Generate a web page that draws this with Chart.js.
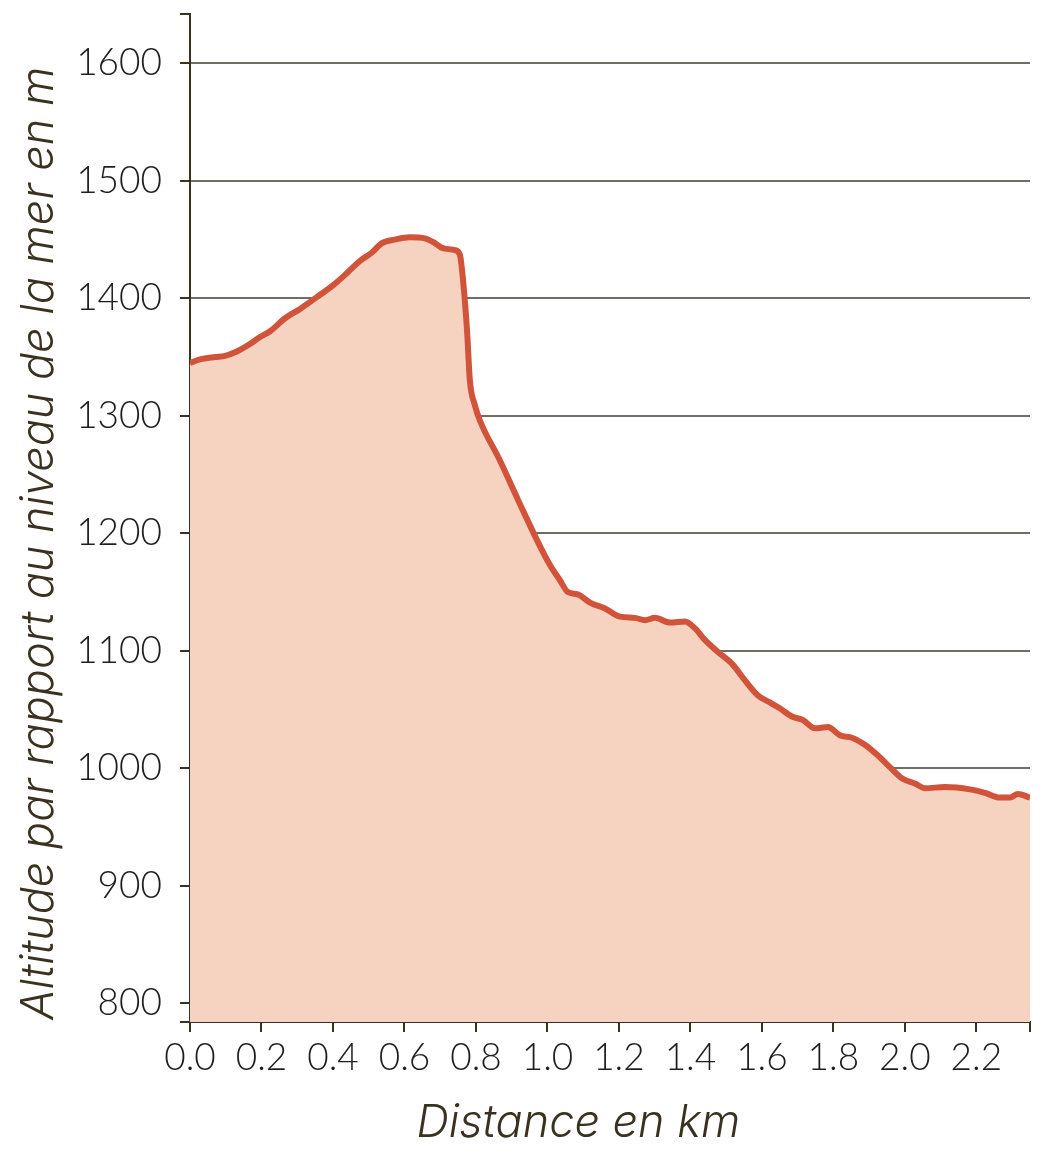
<!DOCTYPE html>
<html>
<head>
<meta charset="utf-8">
<script src="https://cdn.jsdelivr.net/npm/chart.js@4"></script>
<style>
  html, body { margin: 0; padding: 0; background: #fff; }
  #wrap { width: 1063px; height: 1174px; }
</style>
</head>
<body>
<div id="wrap"><canvas id="profile"></canvas></div>
<script>
const distanceKm = [0, 0.028, 0.07, 0.098, 0.126, 0.162, 0.196, 0.224, 0.266, 0.308, 0.364, 0.4, 0.434, 0.476, 0.509, 0.537, 0.573, 0.615, 0.657, 0.685, 0.705, 0.741, 0.755, 0.764, 0.775, 0.783, 0.797, 0.811, 0.867, 0.923, 0.971, 1.007, 1.035, 1.057, 1.085, 1.119, 1.161, 1.203, 1.245, 1.273, 1.301, 1.343, 1.385, 1.413, 1.441, 1.477, 1.519, 1.552, 1.589, 1.622, 1.65, 1.684, 1.715, 1.748, 1.785, 1.818, 1.852, 1.888, 1.924, 1.958, 1.994, 2.028, 2.056, 2.112, 2.182, 2.224, 2.266, 2.294, 2.316, 2.35];
const altitudeM = [1345, 1348, 1350, 1351, 1354, 1360, 1367, 1372, 1383, 1391, 1403, 1411, 1420, 1432, 1439, 1447, 1450, 1452, 1451, 1447, 1443, 1441, 1437, 1415, 1373, 1330, 1309, 1296, 1262, 1225, 1194, 1173, 1160, 1150, 1148, 1141, 1136, 1129, 1128, 1126, 1128, 1124, 1125, 1119, 1109, 1099, 1088, 1075, 1062, 1056, 1051, 1044, 1041, 1034, 1035, 1028, 1026, 1020, 1011, 1001, 991, 987, 983, 984, 982, 979, 975, 975, 978, 975];

const xTickLabels = [0, 0.2, 0.4, 0.6, 0.8, 1.0, 1.2, 1.4, 1.6, 1.8, 2.0, 2.2];
const yTickLabels = [800, 900, 1000, 1100, 1200, 1300, 1400, 1500, 1600];
const xMin = 0, xMax = 2.35;
const yMin = 784, yMax = 1642;

const axisColor = '#3a3120';
const gridColor = '#6e6d66';
const tickFont = { family: 'Lato, "Open Sans", sans-serif', size: 37, weight: 300 };
const titleFont = { family: 'Inter, "Open Sans", sans-serif', size: 45, weight: 300, style: 'italic' };
// non-breaking spaces nudge the centred titles, as in the original
const pad = n => '\u00a0'.repeat(n);

new Chart(document.getElementById('profile'), {
  type: 'line',
  data: {
    datasets: [{
      data: distanceKm.map((d, i) => ({ x: d, y: altitudeM[i] })),
      borderColor: '#d0533a',
      backgroundColor: '#f6d3c1',
      borderWidth: 6,
      fill: 'start',
      pointRadius: 0,
      cubicInterpolationMode: 'monotone'
    }]
  },
  options: {
    responsive: true,
    maintainAspectRatio: false,
    animation: false,
    layout: { padding: { top: 14, right: 33, left: 0, bottom: 0 } },
    plugins: { legend: { display: false }, tooltip: { enabled: false } },
    scales: {
      x: {
        type: 'linear',
        min: xMin,
        max: xMax,
        afterBuildTicks: s => { s.ticks = xTickLabels.concat([xMax]).map(v => ({ value: v })); },
        afterFit: s => { s.height = 152; },
        border: { color: axisColor, width: 2 },
        grid: { drawOnChartArea: false, tickLength: 10, tickColor: axisColor, lineWidth: 2 },
        ticks: {
          autoSkip: false,
          maxRotation: 0,
          padding: 4,
          color: '#1e1e1e',
          font: tickFont,
          callback: v => xTickLabels.some(t => Math.abs(t - v) < 1e-6) ? v.toFixed(1) : ''
        },
        title: {
          display: true,
          text: 'Distance en km' + pad(5),
          color: axisColor,
          font: titleFont,
          padding: { top: 0, bottom: 24 }
        }
      },
      y: {
        min: yMin,
        max: yMax,
        afterBuildTicks: s => { s.ticks = [yMin].concat(yTickLabels, [yMax]).map(v => ({ value: v })); },
        afterFit: s => { s.width = 190; s.paddingTop = 0; s.paddingBottom = 0; },
        border: { color: axisColor, width: 2 },
        grid: {
          tickLength: 10,
          lineWidth: 2,
          tickColor: axisColor,
          color: c => (c.tick && yTickLabels.includes(c.tick.value) && c.tick.value !== 800) ? gridColor : 'rgba(0,0,0,0)'
        },
        ticks: {
          autoSkip: false,
          padding: 18,
          color: '#1e1e1e',
          font: tickFont,
          callback: v => yTickLabels.includes(v) ? String(v) : ''
        },
        title: {
          display: true,
          text: 'Altitude par rapport au niveau de la mer en m' + pad(4),
          color: axisColor,
          font: titleFont,
          padding: { top: 12, bottom: 0 }
        }
      }
    }
  }
});
</script>
</body>
</html>
